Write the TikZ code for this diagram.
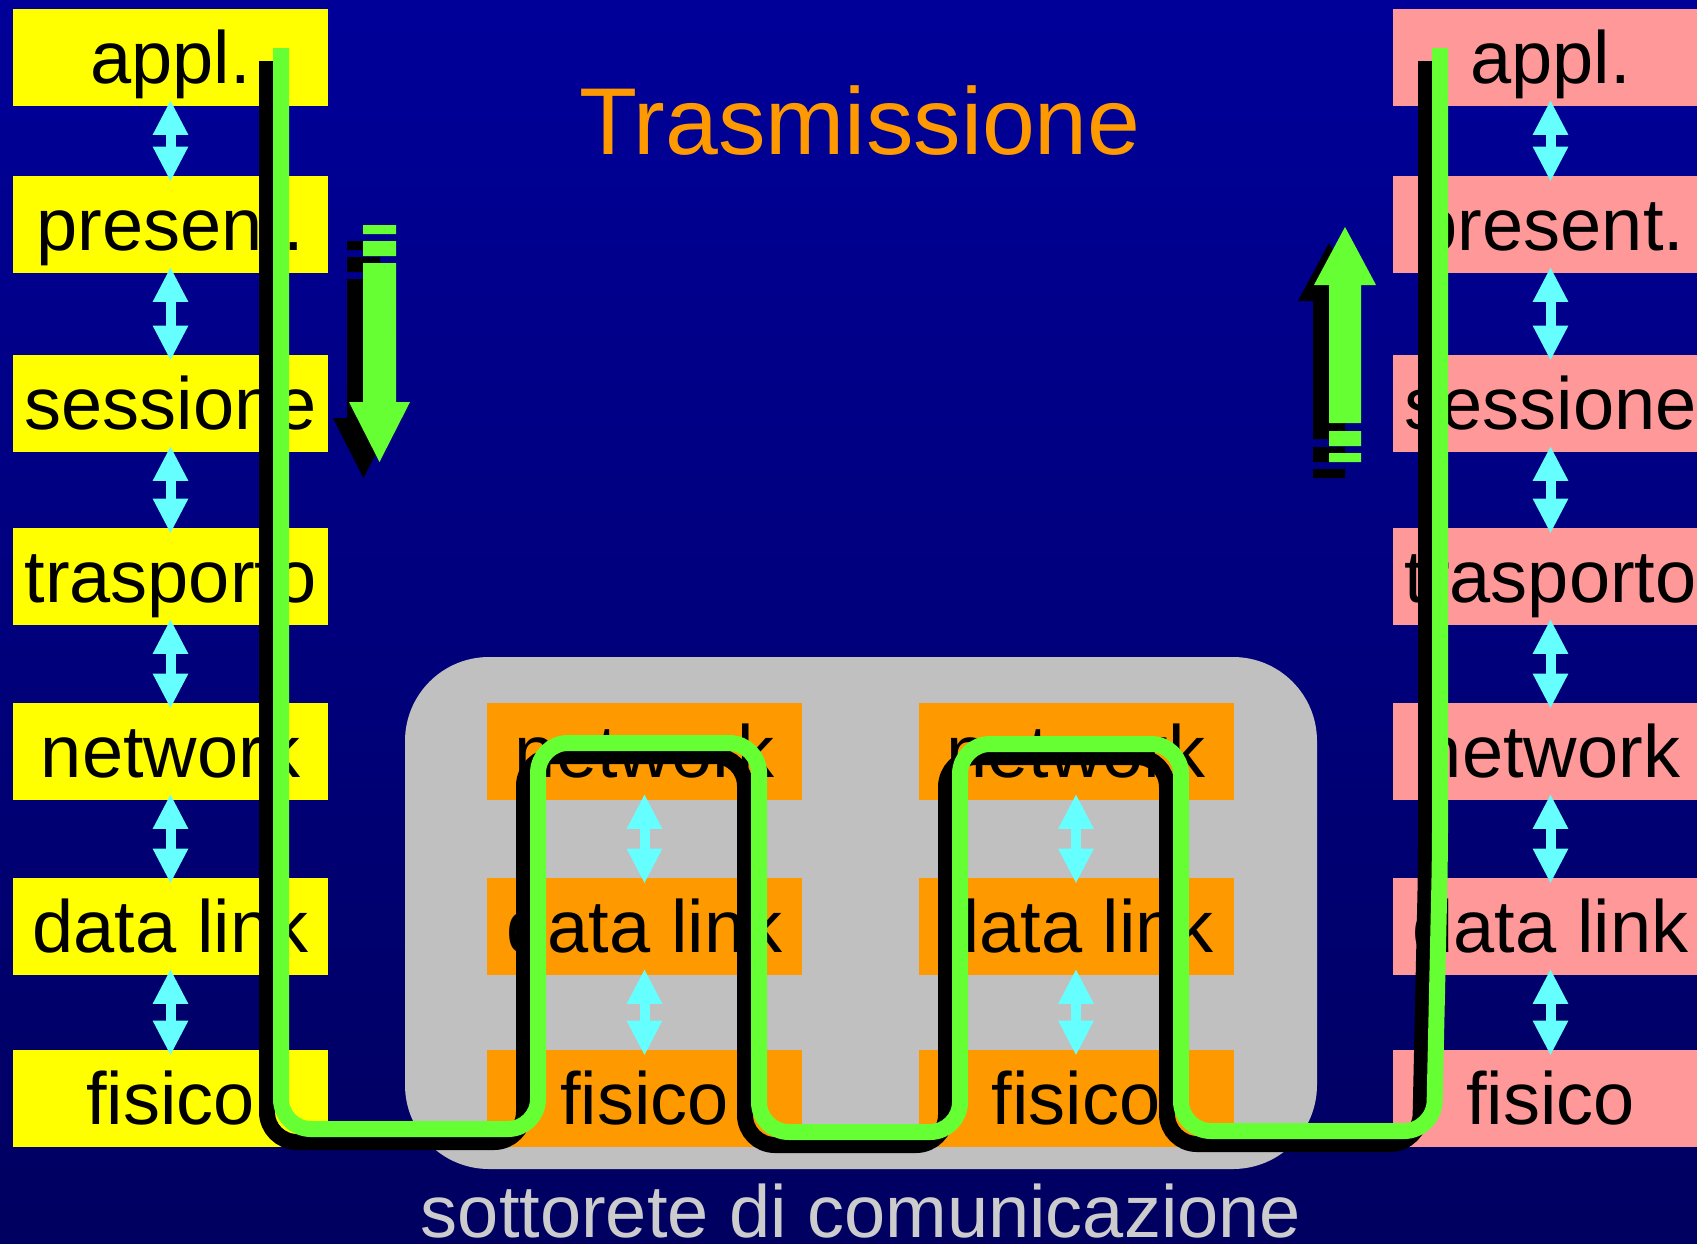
\documentclass[tikz,border=0pt]{standalone}
\usepackage{fontspec}
\setmainfont{Liberation Sans}
\usetikzlibrary{arrows.meta}
\definecolor{bgtop}{HTML}{000099}
\definecolor{bgbot}{HTML}{000060}
\definecolor{ylw}{HTML}{FFFF00}
\definecolor{pnk}{HTML}{FF9999}
\definecolor{org}{HTML}{FF9900}
\definecolor{gry}{HTML}{C0C0C0}
\definecolor{grn}{HTML}{66FF33}
\definecolor{cyn}{HTML}{66FFFF}
\definecolor{subtxt}{HTML}{CCCCCC}
\newcommand\labfont{\fontsize{37}{44}\selectfont}
\newcommand\titfont{\fontsize{47.5}{56}\selectfont}
\tikzset{
  layer/.style={rectangle, inner xsep=0pt, inner ysep=0pt, minimum width=157.5pt,
    text height=37pt, text depth=11.25pt, font=\labfont, text=black},
  lyel/.style={layer, fill=ylw},
  lpnk/.style={layer, fill=pnk},
  lorg/.style={layer, fill=org},
  cyarr/.style={draw=cyn, line width=5pt,
    {Triangle[length=17.5pt,width=16.5pt]}-{Triangle[length=17.5pt,width=16.5pt]},
    shorten <=-3pt, shorten >=-3pt},
  pathline/.style={line width=8pt, rounded corners=15pt},
}
\begin{document}
\begin{tikzpicture}[x=0.5pt,y=-0.5pt]
\useasboundingbox (0,0) rectangle (1697,1243);
\clip (0,0) rectangle (1697,1243);
\shade[top color=bgtop,bottom color=bgbot] (0,0) rectangle (1697,1243);
% subnet area
\fill[gry, rounded corners=42pt] (405,657) rectangle (1317,1169);
% left stack
\node[lyel] (L1) at (170.5,57.25) {appl.};
\node[lyel] (L2) at (170.5,224.25) {present.};
\node[lyel] (L3) at (170.5,403.25) {sessione};
\node[lyel] (L4) at (170.5,576.25) {trasporto};
\node[lyel] (L5) at (170.5,751.25) {network};
\node[lyel] (L6) at (170.5,926.25) {data link};
\node[lyel] (L7) at (170.5,1098.25) {fisico};
% right stack
\node[lpnk] (R1) at (1550.5,57.25) {appl.};
\node[lpnk] (R2) at (1550.5,224.25) {present.};
\node[lpnk] (R3) at (1550.5,403.25) {sessione};
\node[lpnk] (R4) at (1550.5,576.25) {trasporto};
\node[lpnk] (R5) at (1550.5,751.25) {network};
\node[lpnk] (R6) at (1550.5,926.25) {data link};
\node[lpnk] (R7) at (1550.5,1098.25) {fisico};
% middle stacks
\node[lorg] (A1) at (644.5,751.25) {network};
\node[lorg] (A2) at (644.5,926.25) {data link};
\node[lorg] (A3) at (644.5,1098.25) {fisico};
\node[lorg] (B1) at (1076,751.25) {network};
\node[lorg] (B2) at (1076,926.25) {data link};
\node[lorg] (B3) at (1076,1098.25) {fisico};
% title and caption
\node[anchor=base, font=\titfont, text=org, inner sep=0pt] (title) at (860,154) {Trasmissione};
\node[anchor=base, font=\labfont, text=subtxt, inner sep=0pt] (sub) at (861,1237) {sottorete di comunicazione};
% cyan double arrows
\foreach \s in {L,R}{
  \foreach \i [evaluate=\i as \j using int(\i+1)] in {1,...,6}{
    \draw[cyarr] (\s\i.south) -- (\s\j.north);
  }
}
\foreach \s in {A,B}{
  \draw[cyarr] (\s1.south) -- (\s2.north);
  \draw[cyarr] (\s2.south) -- (\s3.north);
}
% big block arrows (shadows first)
\begin{scope}[shift={(-16,16)}]
\fill[black] (363,225) rectangle (396,234) (363,241) rectangle (396,256)
  (363,263) -- (396,263) -- (396,402) -- (410,402) -- (379.5,462) -- (349,402) -- (363,402) -- cycle;
\fill[black] (1329,431) rectangle (1361,446) (1329,453) rectangle (1361,462)
  (1329,423) -- (1361,423) -- (1361,285) -- (1376,285) -- (1345,227) -- (1314,285) -- (1329,285) -- cycle;
\end{scope}
\fill[grn] (363,225) rectangle (396,234) (363,241) rectangle (396,256)
  (363,263) -- (396,263) -- (396,402) -- (410,402) -- (379.5,462) -- (349,402) -- (363,402) -- cycle;
\fill[grn] (1329,431) rectangle (1361,446) (1329,453) rectangle (1361,462)
  (1329,423) -- (1361,423) -- (1361,285) -- (1376,285) -- (1345,227) -- (1314,285) -- (1329,285) -- cycle;
% data path: shadow then green
\draw[pathline, black, shift={(-14,13)}] (281,48) -- (281,1129) -- (538,1129) -- (538,743) -- (759,743) -- (759,1132) -- (960,1132) -- (960,744) -- (1181,744) -- (1181,1131) -- (1434,1131) -- (1440,855) -- (1440,48);
\draw[pathline, grn] (281,48) -- (281,1129) -- (538,1129) -- (538,743) -- (759,743) -- (759,1132) -- (960,1132) -- (960,744) -- (1181,744) -- (1181,1131) -- (1434,1131) -- (1440,855) -- (1440,48);
\end{tikzpicture}
\end{document}
